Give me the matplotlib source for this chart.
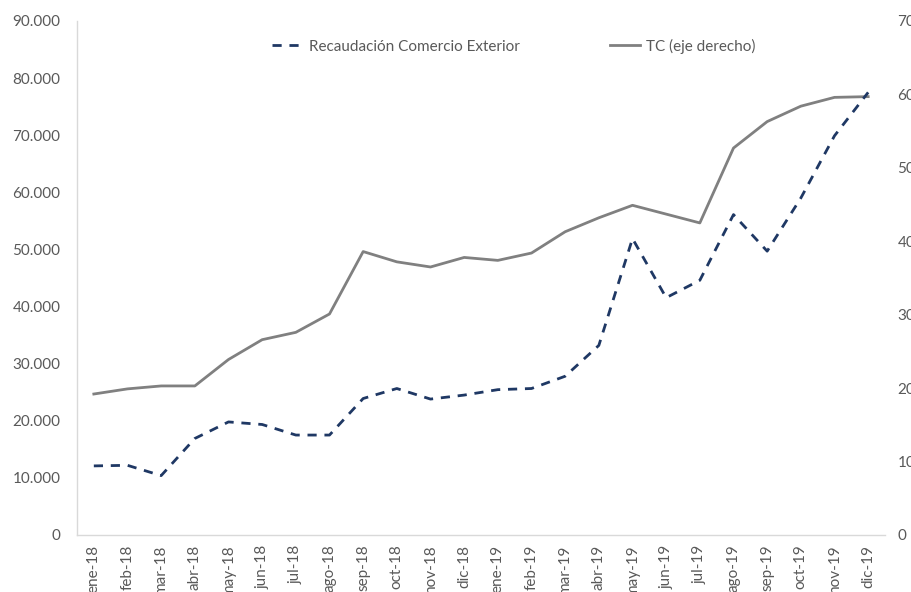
import matplotlib
matplotlib.use("Agg")
import matplotlib.pyplot as plt
from matplotlib.ticker import FuncFormatter

months = ['ene-18', 'feb-18', 'mar-18', 'abr-18', 'may-18', 'jun-18', 'jul-18',
          'ago-18', 'sep-18', 'oct-18', 'nov-18', 'dic-18', 'ene-19', 'feb-19',
          'mar-19', 'abr-19', 'may-19', 'jun-19', 'jul-19', 'ago-19', 'sep-19',
          'oct-19', 'nov-19', 'dic-19']

recaudacion = [12100, 12200, 10400, 16900, 19800, 19350, 17500, 17500, 23900,
               25650, 23800, 24500, 25450, 25650, 27800, 33200, 51900, 41550,
               44600, 56100, 49700, 59000, 69900, 77500]

tc = [19.2, 19.9, 20.3, 20.3, 23.9, 26.6, 27.6, 30.1, 38.6, 37.2, 36.5, 37.8,
      37.4, 38.4, 41.3, 43.2, 44.9, 43.7, 42.5, 52.7, 56.3, 58.4, 59.6, 59.7]

left_ticks = list(range(0, 90001, 10000))
right_ticks = list(range(0, 71, 10))

label_series1 = 'Recaudación Comercio Exterior'
label_series2 = 'TC (eje derecho)'

plt.rcParams['font.family'] = ['Lato', 'DejaVu Sans']
txt_color = '#595959'

fig = plt.figure(figsize=(9.12, 5.92), dpi=100)
ax = fig.add_axes([77 / 912, 1 - 535 / 592, (885 - 77) / 912, (535 - 21) / 592])
ax2 = ax.twinx()

x = list(range(len(months)))
l2, = ax2.plot(x, tc, color='#808080', lw=2.0, solid_joinstyle='round',
               label=label_series2)
l1, = ax.plot(x, recaudacion, color='#1F3864', lw=2.0,
              linestyle=(0, (3.3, 2.8)), dash_capstyle='butt',
              label=label_series1)

ax.set_zorder(ax2.get_zorder() + 1)
ax.patch.set_visible(False)

ax.set_xlim(-0.5, len(months) - 0.5)
ax.set_ylim(0, 90000)
ax2.set_ylim(0, 70)
ax.set_yticks(left_ticks)
ax2.set_yticks(right_ticks)
ax.yaxis.set_major_formatter(FuncFormatter(lambda v, p: f"{int(v):,}".replace(",", ".")))
ax2.yaxis.set_major_formatter(FuncFormatter(lambda v, p: f"{int(v)}"))

ax.set_xticks(x)
ax.set_xticklabels(months, rotation=90, va='top', ha='center')

for a in (ax, ax2):
    for s in a.spines.values():
        s.set_visible(False)
ax.spines['left'].set_visible(True)
ax.spines['bottom'].set_visible(True)
ax.spines['left'].set_color('#D9D9D9')
ax.spines['bottom'].set_color('#D9D9D9')
ax.spines['left'].set_linewidth(1.0)
ax.spines['bottom'].set_linewidth(1.0)

ax.tick_params(axis='y', length=0, pad=12, labelsize=11, labelcolor=txt_color)
ax.tick_params(axis='x', length=0, pad=7, labelsize=11, labelcolor=txt_color)
ax2.tick_params(axis='y', length=0, pad=9, labelsize=11, labelcolor=txt_color)

fig.legend(handles=[l1, l2], loc='center', bbox_to_anchor=(514 / 912, 1 - 46 / 592),
           ncol=2, frameon=False, fontsize=11, handlelength=2.0,
           handletextpad=0.4, columnspacing=5.9, labelcolor=txt_color)

fig.savefig('out.png', dpi=100)
